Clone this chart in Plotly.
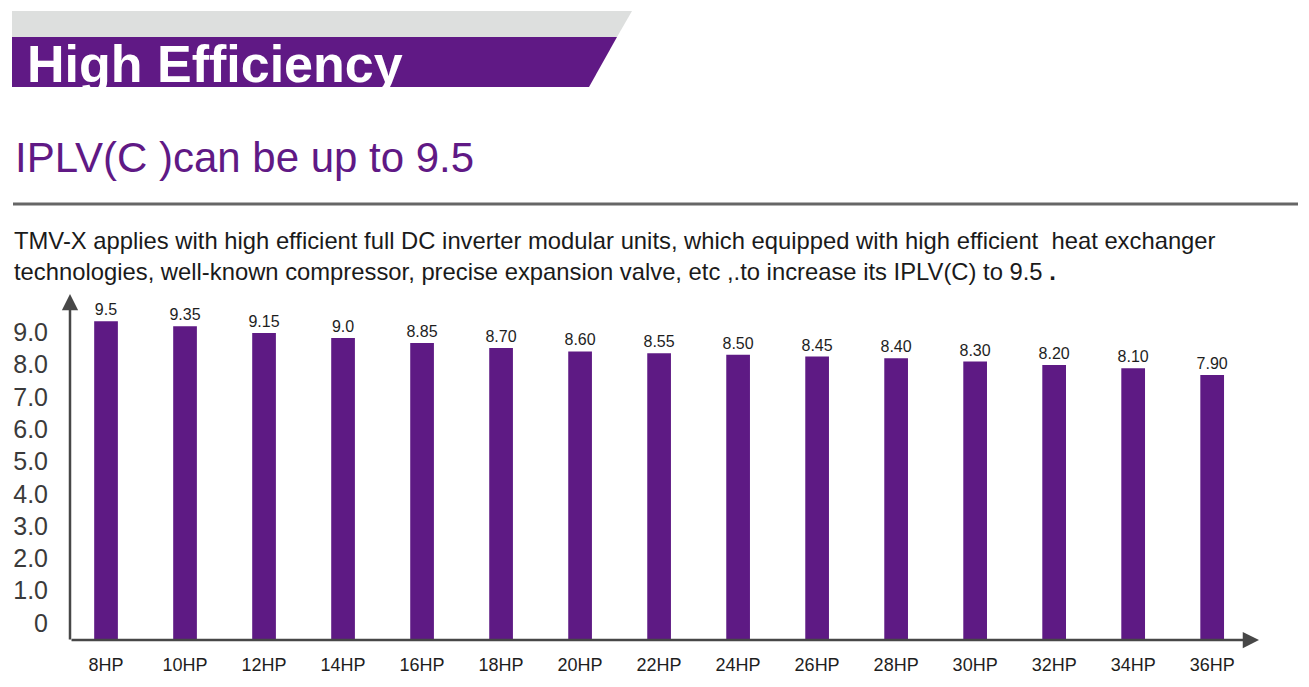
import plotly.graph_objects as go

# ---- data ----
models = ["8HP", "10HP", "12HP", "14HP", "16HP", "18HP", "20HP", "22HP",
          "24HP", "26HP", "28HP", "30HP", "32HP", "34HP", "36HP"]
iplv = [9.5, 9.35, 9.15, 9.0, 8.85, 8.70, 8.60, 8.55, 8.50, 8.45, 8.40,
        8.30, 8.20, 8.10, 7.90]
value_labels = ["9.5", "9.35", "9.15", "9.0", "8.85", "8.70", "8.60", "8.55",
                "8.50", "8.45", "8.40", "8.30", "8.20", "8.10", "7.90"]
y_tick_vals = [0, 1, 2, 3, 4, 5, 6, 7, 8, 9]
y_tick_text = ["0", "1.0", "2.0", "3.0", "4.0", "5.0", "6.0", "7.0", "8.0", "9.0"]

header_title = "High Efficiency"
sub_title = "IPLV(C )can be up to 9.5"
para_line1 = ("TMV-X applies with high efficient full DC inverter modular units, "
              "which equipped with high efficient  heat exchanger")
para_line2 = ("technologies, well-known compressor, precise expansion valve, "
              "etc ,.to increase its IPLV(C) to 9.5 <b>.</b>")

# ---- layout geometry ----
W, H = 1309, 687
L, R, T, B = 70, 1258, 300, 640
PW, PH = R - L, B - T

def px(x):
    return (x - L) / PW

def py(y):
    return (B - y) / PH

PURPLE = "#601985"
BAR = "#5e1a84"
FONT = "Liberation Sans, Arial, Helvetica, sans-serif"

fig = go.Figure()
fig.add_trace(go.Bar(
    x=models, y=iplv, text=value_labels, textposition="outside",
    constraintext="none",
    textfont=dict(size=16, color="#1e1e1e", family=FONT),
    marker=dict(color=BAR, line=dict(width=0)),
    width=0.3, cliponaxis=False, hoverinfo="skip", yaxis="y",
))
# invisible companion trace so the label axis is drawn
fig.add_trace(go.Scatter(
    x=models, y=iplv, yaxis="y2", mode="markers",
    marker=dict(opacity=0), hoverinfo="skip", showlegend=False,
))

fig.update_layout(
    width=W, height=H,
    margin=dict(l=L, r=W - R, t=T, b=H - B),
    paper_bgcolor="white", plot_bgcolor="white",
    showlegend=False,
    font=dict(family=FONT),
    xaxis=dict(
        range=[-0.456, 14.58], showgrid=False, zeroline=False, showline=False,
        ticks="", tickfont=dict(size=18, color="#1e1e1e", family=FONT),
        ticklabelstandoff=12, fixedrange=True,
    ),
    yaxis=dict(
        range=[0, PH / 33.55], showgrid=False, zeroline=False, showline=False,
        showticklabels=False, ticks="", fixedrange=True,
    ),
    yaxis2=dict(
        overlaying="y", side="left", range=[-0.526, 10.0],
        tickvals=y_tick_vals, ticktext=y_tick_text,
        tickfont=dict(size=25, color="#3a3a3a", family=FONT),
        showgrid=False, zeroline=False, showline=False, ticks="",
        ticklabelstandoff=21, fixedrange=True,
    ),
)

shapes = []
# header gray band
shapes.append(dict(
    type="path", xref="paper", yref="paper",
    path=f"M {px(12)} {py(11)} L {px(632)} {py(11)} L {px(617)} {py(37)} L {px(12)} {py(37)} Z",
    fillcolor="#dddfde", line=dict(width=0), layer="below",
))
# header purple band
shapes.append(dict(
    type="path", xref="paper", yref="paper",
    path=f"M {px(12)} {py(37)} L {px(617)} {py(37)} L {px(589)} {py(87)} L {px(12)} {py(87)} Z",
    fillcolor=PURPLE, line=dict(width=0), layer="below",
))
# separator rule
shapes.append(dict(
    type="line", xref="paper", yref="paper",
    x0=px(13), x1=px(1298), y0=py(204), y1=py(204),
    line=dict(color="#666666", width=3),
))
fig.update_layout(shapes=shapes)

ann = []
ann.append(dict(
    text=f"<b>{header_title}</b>", xref="paper", yref="paper",
    x=px(25), y=py(64), xanchor="left", yanchor="middle", showarrow=False,
    font=dict(size=52, color="white", family=FONT),
))
ann.append(dict(
    text=sub_title, xref="paper", yref="paper",
    x=px(13), y=py(158), xanchor="left", yanchor="middle", showarrow=False,
    font=dict(size=42, color=PURPLE, family=FONT),
))
ann.append(dict(
    text=para_line1, xref="paper", yref="paper",
    x=px(12), y=py(240), xanchor="left", yanchor="middle", showarrow=False,
    font=dict(size=23.8, color="#1a1a1a", family=FONT),
))
ann.append(dict(
    text=para_line2, xref="paper", yref="paper",
    x=px(12), y=py(271), xanchor="left", yanchor="middle", showarrow=False,
    font=dict(size=23.8, color="#1a1a1a", family=FONT),
))
# axis arrows
ann.append(dict(
    text="", xref="paper", yref="paper", x=px(1259), y=py(640),
    ax=-(1259 - 70), ay=0, axref="pixel", ayref="pixel",
    showarrow=True, arrowhead=2, arrowsize=1.3, arrowwidth=2.5,
    arrowcolor="#474747", standoff=0,
))
ann.append(dict(
    text="", xref="paper", yref="paper", x=px(70), y=py(294),
    ax=0, ay=(641 - 294), axref="pixel", ayref="pixel",
    showarrow=True, arrowhead=2, arrowsize=1.3, arrowwidth=2.5,
    arrowcolor="#474747", standoff=0,
))
fig.update_layout(annotations=ann)

fig.write_html(
    "out.html", config={"displayModeBar": False},
    post_script="document.body.style.margin='0';document.body.style.padding='0';",
)
